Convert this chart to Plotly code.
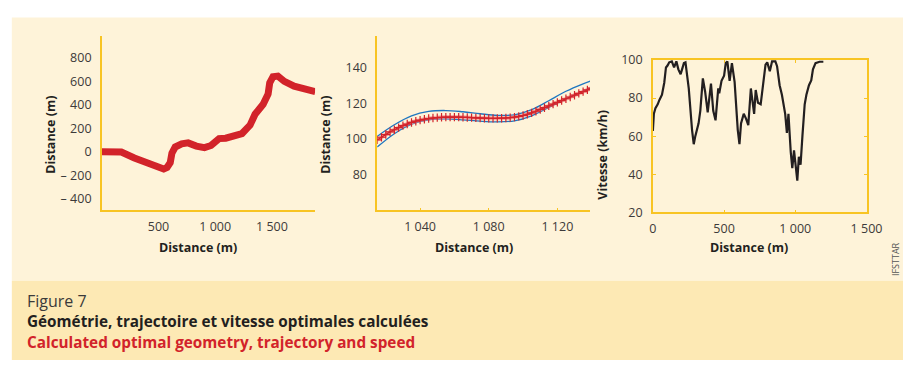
import plotly.graph_objects as go

W, H = 919, 369

# ---------------- DATA ----------------
# Panel 1: geometry (plan view)
geo_x = [0, 100, 172, 287, 431, 500, 546, 575, 603, 618, 647, 704, 761, 833, 905, 963,
         1034, 1092, 1149, 1236, 1307, 1351, 1422, 1466, 1480, 1509, 1552, 1609, 1695, 1796, 1882]
geo_y = [0, 0, -3, -53, -107, -130, -147, -135, -93, -13, 40, 67, 75, 48, 35, 53,
         112, 115, 133, 155, 227, 320, 405, 493, 587, 640, 645, 600, 560, 533, 512]

# Panel 2: corridor limits and optimal trajectory
lim_x = [1015, 1025, 1035, 1045, 1055, 1065, 1075, 1085, 1095, 1105, 1115, 1125, 1135, 1140]
upper_y = [101.5, 108, 113, 115.5, 116, 115.3, 114.2, 113.3, 113.6, 116.5, 121.5, 126.8, 131, 132.8]
lower_y = [95.5, 103, 108.3, 110.8, 111.3, 110.8, 110, 109.6, 110.2, 113, 117.8, 122.5, 126.8, 128.7]

traj_x = [1015, 1017.5, 1020, 1022.5, 1025, 1027.5, 1030, 1032.5, 1035, 1037.5, 1040,
          1042.5, 1045, 1047.5, 1050, 1052.5, 1055, 1057.5, 1060, 1062.5, 1065, 1067.5,
          1070, 1072.5, 1075, 1077.5, 1080, 1082.5, 1085, 1087.5, 1090, 1092.5, 1095,
          1097.5, 1100, 1102.5, 1105, 1107.5, 1110, 1112.5, 1115, 1117.5, 1120, 1122.5,
          1125, 1127.5, 1130, 1132.5, 1135, 1137.5, 1140]
traj_y = [99.5, 101, 102.5, 104, 105.2, 106.4, 107.5, 108.4, 109.3, 110, 110.6,
          111.1, 111.5, 111.8, 112, 112.2, 112.3, 112.3, 112.3, 112.3, 112.2, 112.1,
          112, 111.9, 111.8, 111.7, 111.6, 111.6, 111.6, 111.7, 111.8, 112, 112.3,
          112.7, 113.2, 113.9, 114.7, 115.6, 116.6, 117.6, 118.6, 119.6, 120.6, 121.6,
          122.6, 123.6, 124.6, 125.6, 126.6, 127.6, 128.6]

# Panel 3: optimal speed
spd_x = [0, 7, 18, 34, 46, 64, 80, 92, 103, 115, 133, 149, 165, 179, 195, 218, 229, 252,
         275, 287, 298, 321, 333, 351, 367, 385, 408, 424, 440, 459, 466, 482, 500, 512,
         523, 539, 555, 574, 596, 608, 619, 638, 654, 670, 688, 700, 711, 722, 738, 757,
         775, 791, 803, 821, 837, 860, 872, 890, 906, 929, 941, 952, 968, 979, 991, 1002,
         1014, 1025, 1037, 1050, 1066, 1078, 1096, 1112, 1124, 1142, 1170, 1197]
spd_v = [62.8, 71.7, 74.7, 76.7, 79, 81.7, 88, 96, 97, 98.7, 99.2, 96, 99.2, 95, 92.5, 98.3, 98.7, 85,
         63.3, 55.8, 60, 66.7, 73.3, 90.3, 83.3, 72.5, 87.5, 73.3, 68.3, 85, 82.5, 89, 91.7, 98.3,
         99.2, 89, 98.3, 88.3, 63.3, 55.8, 66.7, 71.7, 69.2, 65.8, 85, 76.7, 71.7, 84.2, 77.5, 76.7,
         88.3, 97.5, 98.7, 94, 99.2, 99.2, 96.7, 86.7, 81.7, 71.7, 61.7, 71.7, 51.7, 43.3, 52.5, 45,
         36.7, 49.2, 45, 60, 76.7, 81.7, 86.7, 89.2, 95, 98.3, 99, 99]

p1_yticks = [800, 600, 400, 200, 0, -200, -400]
p1_ytext = ["800", "600", "400", "200", "0", "\u2013 200", "\u2013 400"]
p1_xticks = [500, 1000, 1500]
p1_xtext = ["500", "1 000", "1 500"]
p2_yticks = [80, 100, 120, 140]
p2_xticks = [1040, 1080, 1120]
p2_xtext = ["1 040", "1 080", "1 120"]
p3_yticks = [20, 40, 60, 80, 100]
p3_xticks = [0, 500, 1000, 1500]
p3_xtext = ["0", "500", "1 000", "1 500"]

# ---------------- STYLE ----------------
CREAM = "#fef3d9"
BAND = "#fde9b4"
YEL = "#f8c424"
RED = "#d2232a"
BLUE = "#1f77c0"
DARK = "#231f20"
TICKC = "#3d3a3a"
FONT = "Open Sans"


def px(x):
    return x / W


def py(y):
    return 1 - y / H


fig = go.Figure()

fig.add_trace(go.Scatter(x=geo_x, y=geo_y, mode="lines", xaxis="x", yaxis="y",
                         line=dict(color=RED, width=7), showlegend=False))

fig.add_trace(go.Scatter(x=lim_x, y=upper_y, mode="lines", xaxis="x2", yaxis="y2",
                         line=dict(color=BLUE, width=1.3, shape="spline"), showlegend=False))
fig.add_trace(go.Scatter(x=lim_x, y=lower_y, mode="lines", xaxis="x2", yaxis="y2",
                         line=dict(color=BLUE, width=1.3, shape="spline"), showlegend=False))
fig.add_trace(go.Scatter(x=traj_x, y=traj_y, mode="lines", xaxis="x2", yaxis="y2",
                         line=dict(color="rgba(240,130,130,0.6)", width=4, shape="spline"),
                         showlegend=False))
fig.add_trace(go.Scatter(x=traj_x, y=traj_y, mode="lines+markers", xaxis="x2", yaxis="y2",
                         line=dict(color=RED, width=1.3, shape="spline"),
                         marker=dict(symbol="cross-thin", size=6, color=RED,
                                     line=dict(color=RED, width=1.2)),
                         showlegend=False))

fig.add_trace(go.Scatter(x=spd_x, y=spd_v, mode="lines", xaxis="x3", yaxis="y3",
                         line=dict(color=DARK, width=2.2), showlegend=False))

tickfont = dict(family=FONT, size=12.5, color=TICKC)
common = dict(showgrid=False, zeroline=False, showline=True, linecolor=YEL, linewidth=1.5,
              tickfont=tickfont, tickmode="array")

fig.update_layout(
    width=W, height=H, margin=dict(l=0, r=0, t=0, b=0),
    paper_bgcolor="white", plot_bgcolor="rgba(0,0,0,0)",
    font=dict(family=FONT),
    xaxis=dict(domain=[px(100), px(318)], anchor="y", range=[0, 1880],
               tickvals=p1_xticks, ticktext=p1_xtext, ticks="", ticklabelstandoff=4, **common),
    yaxis=dict(domain=[py(211), py(28)], anchor="x", range=[-500, 990],
               tickvals=p1_yticks, ticktext=p1_ytext, ticks="", ticklabelstandoff=6, **common),
    xaxis2=dict(domain=[px(381.5), px(599)], anchor="y2", range=[1015, 1139],
                tickvals=p2_xticks, ticktext=p2_xtext, ticks="inside", ticklen=3,
                tickcolor=YEL, tickwidth=1, ticklabelstandoff=4, **common),
    yaxis2=dict(domain=[py(211), py(28)], anchor="x2", range=[60, 158],
                tickvals=p2_yticks, ticks="", ticklabelstandoff=6, **common),
    xaxis3=dict(domain=[px(663.3), px(881.7)], anchor="y3", range=[0, 1500],
                tickvals=p3_xticks, ticktext=p3_xtext, ticks="inside", ticklen=3,
                tickcolor=YEL, tickwidth=1, mirror="ticks", ticklabelstandoff=4, **common),
    yaxis3=dict(domain=[py(213.3), py(53.3)], anchor="x3", range=[20, 100],
                tickvals=p3_yticks, ticks="inside", ticklen=3,
                tickcolor=YEL, tickwidth=1, mirror="ticks", ticklabelstandoff=6, **common),
)

shapes = [
    dict(type="rect", xref="paper", yref="paper", x0=px(8), x1=1, y0=py(285), y1=py(9),
         fillcolor=CREAM, line=dict(width=0), layer="below"),
    dict(type="rect", xref="paper", yref="paper", x0=px(8), x1=1, y0=py(368), y1=py(285),
         fillcolor=BAND, line=dict(width=0), layer="below"),
]
fig.update_layout(shapes=shapes)

titlefont = dict(family=FONT, size=12.5, color=DARK)
ann = []


def add_text(x, y, text, font, angle=0, xanchor="center"):
    ann.append(dict(xref="paper", yref="paper", x=px(x), y=py(y), text=text,
                    showarrow=False, font=font, textangle=angle,
                    xanchor=xanchor, yanchor="middle"))


add_text(198, 250, "<b>Distance (m)</b>", titlefont)
add_text(48, 132, "<b>Distance (m)</b>", titlefont, angle=-90)
add_text(480, 250, "<b>Distance (m)</b>", titlefont)
add_text(329, 132, "<b>Distance (m)</b>", titlefont, angle=-90)
add_text(762, 250, "<b>Distance (m)</b>", titlefont)
add_text(612, 153, "<b>Vitesse (km/h)</b>", titlefont, angle=-90)
add_text(912, 262, "IFSTTAR", dict(family=FONT, size=9, color="#555555"), angle=-90)

add_text(21, 306, "Figure 7", dict(family=FONT, size=16, color="#3a3a3a"), xanchor="left")
add_text(21, 327, "<b>Géométrie, trajectoire et vitesse optimales calculées</b>",
         dict(family=FONT, size=15.3, color=DARK), xanchor="left")
add_text(21, 349, "<b>Calculated optimal geometry, trajectory and speed</b>",
         dict(family=FONT, size=15.3, color=RED), xanchor="left")
fig.update_layout(annotations=ann)

fig.write_html("out.html")
